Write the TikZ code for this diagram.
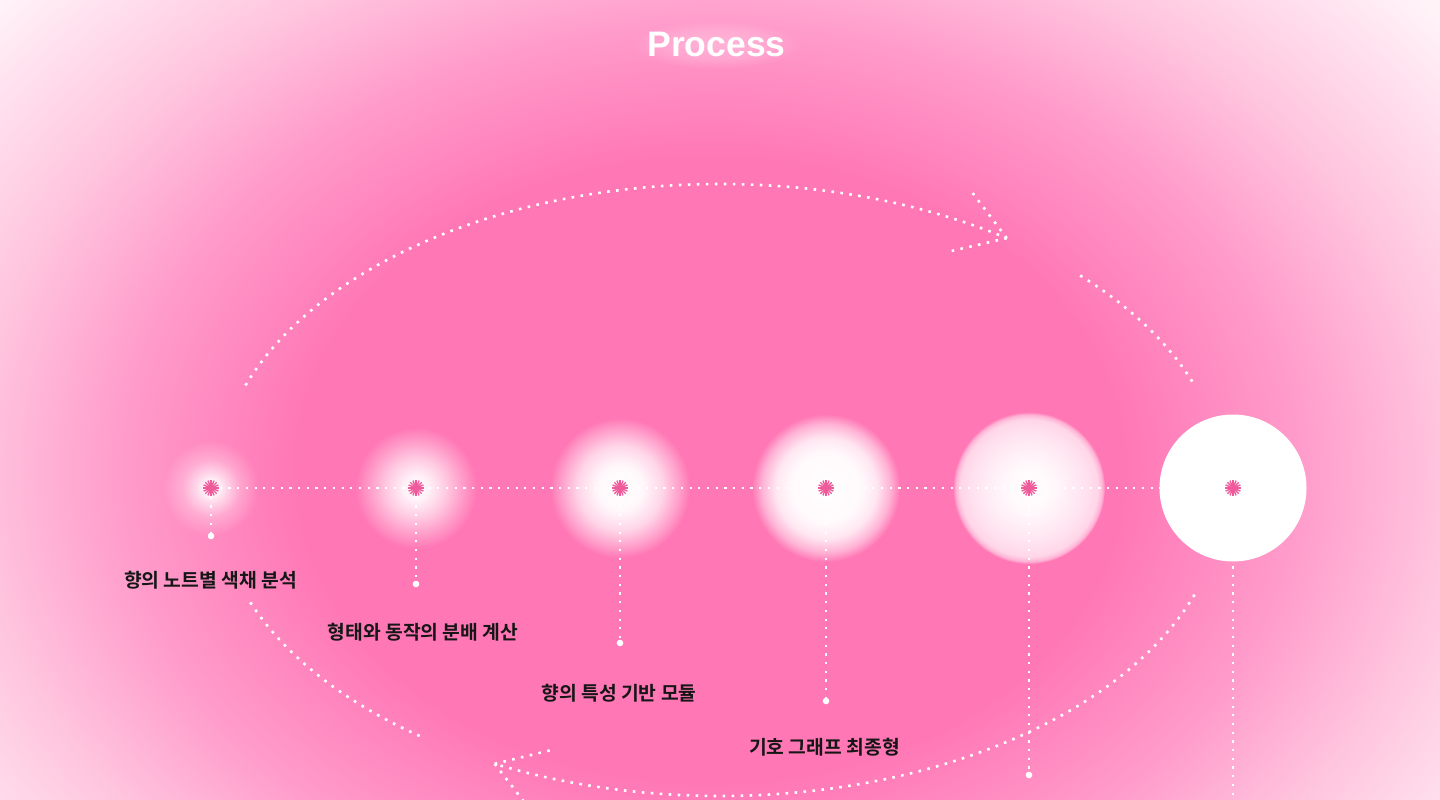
\documentclass[tikz,border=0pt]{standalone}
\usepackage{fontspec}
\usetikzlibrary{fadings,calc}
\newfontfamily\krfont{Noto Sans CJK KR}[BoldFont={Noto Sans CJK KR Bold}]
\newfontfamily\ttlfont{Liberation Sans}
\definecolor{pk}{HTML}{FF77B5}
\definecolor{pkmid}{HTML}{FF9CCB}
\definecolor{pklight}{HTML}{FFC6DF}
\definecolor{pkwhite}{HTML}{FFF3F8}
\definecolor{starc}{HTML}{EE5A9A}
\definecolor{labelc}{HTML}{161616}
\colorlet{pgftransparent}{black}
\pgfdeclareradialshading{bgsh}{\pgfpointorigin}{color(0bp)=(pk); color(12.5bp)=(pk); color(18bp)=(pkmid); color(22.5bp)=(pklight); color(28.75bp)=(pkwhite); color(40bp)=(white); color(50bp)=(white)}
\pgfdeclareradialshading{shA}{\pgfpointorigin}{color(0bp)=(pgftransparent!0); color(3bp)=(pgftransparent!5); color(8bp)=(pgftransparent!35); color(15bp)=(pgftransparent!72); color(25bp)=(pgftransparent!100); color(50bp)=(pgftransparent!100)}
\pgfdeclareradialshading{shB}{\pgfpointorigin}{color(0bp)=(pgftransparent!0); color(5bp)=(pgftransparent!10); color(12bp)=(pgftransparent!38); color(19bp)=(pgftransparent!72); color(25bp)=(pgftransparent!100); color(50bp)=(pgftransparent!100)}
\pgfdeclareradialshading{shC}{\pgfpointorigin}{color(0bp)=(pgftransparent!0); color(8bp)=(pgftransparent!5); color(15bp)=(pgftransparent!30); color(21bp)=(pgftransparent!70); color(25bp)=(pgftransparent!100); color(50bp)=(pgftransparent!100)}
\pgfdeclareradialshading{shD}{\pgfpointorigin}{color(0bp)=(pgftransparent!0); color(12bp)=(pgftransparent!4); color(17bp)=(pgftransparent!18); color(21.5bp)=(pgftransparent!55); color(25bp)=(pgftransparent!100); color(50bp)=(pgftransparent!100)}
\pgfdeclareradialshading{shE}{\pgfpointorigin}{color(0bp)=(pgftransparent!0); color(8bp)=(pgftransparent!5); color(18bp)=(pgftransparent!20); color(22.5bp)=(pgftransparent!30); color(24bp)=(pgftransparent!55); color(25bp)=(pgftransparent!100); color(50bp)=(pgftransparent!100)}
\pgfdeclareradialshading{shT}{\pgfpointorigin}{color(0bp)=(pgftransparent!0); color(15bp)=(pgftransparent!40); color(25bp)=(pgftransparent!100); color(50bp)=(pgftransparent!100)}
\pgfdeclarefading{glowA}{\pgfuseshading{shA}}
\pgfdeclarefading{glowB}{\pgfuseshading{shB}}
\pgfdeclarefading{glowC}{\pgfuseshading{shC}}
\pgfdeclarefading{glowD}{\pgfuseshading{shD}}
\pgfdeclarefading{glowE}{\pgfuseshading{shE}}
\pgfdeclarefading{glowT}{\pgfuseshading{shT}}
\begin{document}
\begin{tikzpicture}[x=1pt,y=-1pt,
  dotline/.style={white, line width=2.2pt, dash pattern=on 2.2pt off 6.5pt},
  orbit/.style={white, line width=2.6pt, dash pattern=on 2.6pt off 6.4pt},
  enddot/.style={circle, fill=white, minimum size=6.6pt, inner sep=0pt},
  steplabel/.style={font=\krfont\bfseries\fontsize{19.3}{23}\selectfont, text=labelc, inner sep=0pt},
  ttl/.style={font=\ttlfont\bfseries\fontsize{35.5}{40}\selectfont, text=white, inner sep=0pt, anchor=base},
  ray/.style={starc, line width=1.4pt}]
\useasboundingbox (0,0) rectangle (1440,800);
\begin{scope}
\clip (0,0) rectangle (1440,800);
\shade[shading=bgsh] (-110,-150) rectangle (1530,1090);

% title with soft glow
\coordinate (tc) at (716.5,45);
\fill[white, opacity=0.28, path fading=glowT] (tc) ellipse (84 and 24);
\node[ttl] (title) at (716.5,56.7) {Process};

% centres
\coordinate (c1) at (211,488);
\coordinate (c2) at (416,488);
\coordinate (c3) at (620,488);
\coordinate (c4) at (826,488);
\coordinate (c5) at (1029,488);
\coordinate (c6) at (1233,488);

% end dots
\node[enddot] (e1) at (211,536) {};
\node[enddot] (e2) at (416,584) {};
\node[enddot] (e3) at (620,643) {};
\node[enddot] (e4) at (826,701) {};
\node[enddot] (e5) at (1029,775) {};
\coordinate (e6) at (1233,812);

% lines
\draw[dotline] (c1) -- (c6);
\foreach \i in {1,...,6}{ \draw[dotline] (c\i) -- (e\i); }

% orbit
\coordinate (O) at (720,490);
\draw[orbit] (O) ++(-160:505 and 306) arc[start angle=-160, end angle=-55.4, x radius=505, y radius=306] coordinate (t1);
\coordinate (t1a) at ($(t1)+(166.9:58)$);
\coordinate (t1b) at ($(t1)+(232.9:58)$);
\draw[orbit] (t1) -- (t1a);
\draw[orbit] (t1) -- (t1b);
\draw[orbit] (O) ++(-44.5:505 and 306) arc[start angle=-44.5, end angle=-20, x radius=505, y radius=306];
\draw[orbit] (O) ++(20:505 and 306) arc[start angle=20, end angle=116.5, x radius=505, y radius=306] coordinate (t2);
\coordinate (t2a) at ($(t2)+(-13.7:58)$);
\coordinate (t2b) at ($(t2)+(52.3:58)$);
\draw[orbit] (t2) -- (t2a);
\draw[orbit] (t2) -- (t2b);
\draw[orbit] (O) ++(126.5:505 and 306) arc[start angle=126.5, end angle=159, x radius=505, y radius=306];

% glows
\fill[white, path fading=glowA] (c1) circle (48);
\fill[white, path fading=glowB] (c2) circle (61);
\fill[white, path fading=glowC] (c3) circle (70);
\fill[white, path fading=glowD] (c4) circle (74);
\fill[white, path fading=glowE] (c5) circle (76);
\fill[white] (c6) circle (73.5);

% stars
\foreach \i in {1,...,6}{
  \foreach \a in {0,22.5,...,337.5}{ \draw[ray] (c\i) -- ++(\a:8); }
}

% labels
\node[steplabel] (l1) at (210.5,580.5) {향의 노트별 색채 분석};
\node[steplabel] (l2) at (423,632) {형태와 동작의 분배 계산};
\node[steplabel] (l3) at (619,693) {향의 특성 기반 모듈};
\node[steplabel] (l4) at (824.5,747) {기호 그래프 최종형};
\end{scope}
\end{tikzpicture}
\end{document}
